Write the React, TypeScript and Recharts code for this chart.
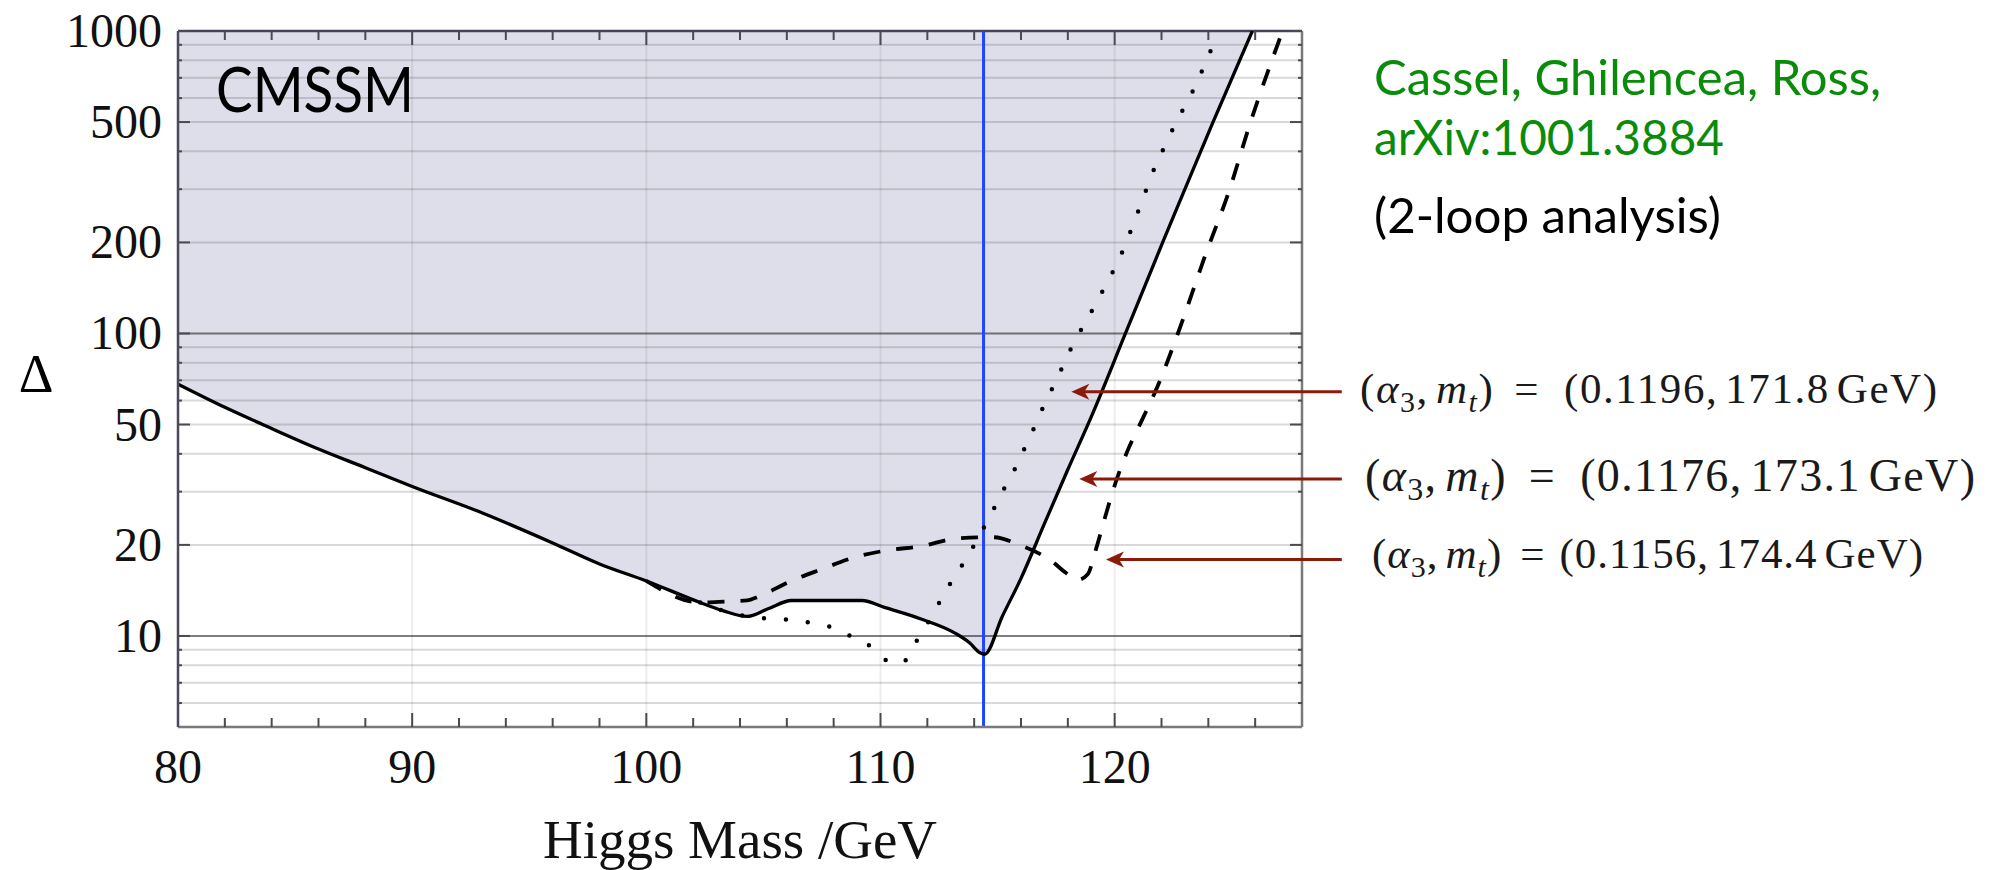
import { ComposedChart, Area, Line, XAxis, YAxis, ReferenceLine } from "recharts";

// Higgs mass (GeV) / fine tuning Δ for (α3, mt) = (0.1176, 173.1 GeV)
const solidMass = [80, 82, 84, 86, 88, 90, 93, 96, 98, 100, 102.3, 103.3, 104.3, 105.2, 106.2, 109.2, 110.2, 111.7, 113.2, 113.8, 114.25, 114.45, 115.2, 116, 117, 118, 119, 120.46, 122.05, 123.0, 124.2, 125.88];
const solidDelta = [68, 57, 48.5, 41.5, 36, 31.2, 25.5, 20.3, 17.3, 15.2, 12.9, 12.1, 11.6, 12.3, 13.1, 13.1, 12.4, 11.4, 10.2, 9.5, 8.8, 8.7, 11.6, 15.5, 23.5, 35.5, 53, 100, 200, 300, 500, 1000];

// (α3, mt) = (0.1156, 174.4 GeV)
const dashedMass = [100, 102.3, 103.4, 104.3, 104.8, 106.1, 107.47, 108.9, 110.3, 111.75, 113.25, 114.8, 116, 117.3, 117.9, 118.4, 118.85, 119.17, 119.59, 120.02, 120.53, 121.17, 121.82, 122.7, 123.9, 124.9, 125.74, 127.17];
const dashedDelta = [15.2, 12.9, 13.0, 13.1, 13.5, 15.1, 16.6, 18.2, 19.2, 19.8, 21.0, 21.2, 19.9, 17.7, 16.2, 15.3, 16.0, 19.0, 24.7, 31.8, 40.6, 51.8, 66.5, 100, 184, 298, 483, 1000];

// (α3, mt) = (0.1196, 171.8 GeV)
const dottedMass = [102.3, 103.3, 104.3, 105.25, 106.2, 107.13, 108.04, 108.85, 109.68, 110.33, 110.8, 111.18, 111.6, 112.1, 112.53, 113, 113.5, 113.97, 114.44, 114.87, 115.27, 115.7, 116.1, 116.5, 116.89, 117.29, 117.69, 118.08, 118.5, 118.98, 119.39, 119.83, 120.23, 120.6, 120.93, 121.26, 121.57, 121.96, 122.34, 122.75, 123.2, 123.6, 123.98, 124.31, 124.45];
const dottedDelta = [12.9, 12.1, 11.6, 11.4, 11.3, 11.0, 10.6, 9.87, 9.12, 8.24, 8.1, 8.5, 9.8, 11.3, 12.97, 15.0, 17.2, 19.8, 23.0, 26.6, 30.6, 35.2, 40.9, 47.6, 55.8, 64.7, 75.2, 87.5, 100.7, 117, 134, 155, 179, 210, 245, 286, 333, 389, 450, 521, 602, 701, 817, 946, 1000];

// LEP bound on the Higgs mass
const lepBound = 114.4;

// axes
const massDomain = [80, 128];
const deltaDomain = [5, 1000];
const massTicks = [80, 82, 84, 86, 88, 90, 92, 94, 96, 98, 100, 102, 104, 106, 108, 110, 112, 114, 116, 118, 120, 122, 124, 126, 128];
const massLabels = [80, 90, 100, 110, 120];
const massGrid = [90, 100, 110, 120];
const deltaTicks = [6, 7, 8, 9, 10, 20, 30, 40, 50, 60, 70, 80, 90, 100, 200, 300, 400, 500, 600, 700, 800, 900, 1000];
const deltaLabels = [10, 20, 50, 100, 200, 500, 1000];
const deltaMinorGrid = [6, 7, 8, 9, 20, 30, 40, 50, 60, 70, 80, 90, 200, 300, 400, 500, 600, 700, 800, 900];
const deltaMajorGrid = [10, 100];

// arrow tips next to each curve, top to bottom, and their captions
const arrowMass = [118.15, 118.49, 119.63];
const arrowDelta = [64.2, 33.0, 17.9];
const arrowTailMass = 129.7;
const captionAlpha = ["0.1196", "0.1176", "0.1156"];
const captionTop = ["171.8", "173.1", "174.4"];

const PLOT = { left: 178, right: 1302, top: 31, bottom: 727 };
const W = 2003;
const H = 870;

const SERIF = "'Liberation Serif', 'Times New Roman', serif";
const SANS = "Lato, 'Open Sans', sans-serif";
const SHADE = "#5a5a96";
const TICK = "#4a4a55";
const RED = "#8b1a0b";
const GREEN = "#0a8c0a";

const toRows = (mass: number[], delta: number[]) => mass.map((m, i) => ({ mass: m, delta: delta[i] }));
const solidRows = toRows(solidMass, solidDelta);
const dashedRows = toRows(dashedMass, dashedDelta);
const dottedRows = toRows(dottedMass, dottedDelta);
const shadeRows = solidMass.map((m, i) => ({ mass: m, band: [solidDelta[i], deltaDomain[1]] }));

function MassTick(props: any) {
  const { x, payload } = props;
  const v = payload.value as number;
  const onFrame = v === massDomain[0] || v === massDomain[1];
  const len = v % 10 === 0 ? 14 : 9;
  return (
    <g>
      {!onFrame && <line x1={x} x2={x} y1={PLOT.bottom} y2={PLOT.bottom - len} stroke={TICK} strokeWidth={2} />}
      {!onFrame && <line x1={x} x2={x} y1={PLOT.top} y2={PLOT.top + len} stroke={TICK} strokeWidth={2} />}
      {massLabels.includes(v) && (
        <text x={x} y={783} textAnchor="middle" fontFamily={SERIF} fontSize={48} fill="#111">
          {v}
        </text>
      )}
    </g>
  );
}

function DeltaTick(props: any) {
  const { y, payload } = props;
  const v = payload.value as number;
  const labelled = deltaLabels.includes(v);
  const len = labelled ? 12 : 4;
  return (
    <g>
      <line x1={PLOT.left} x2={PLOT.left + len} y1={y} y2={y} stroke={TICK} strokeWidth={2} />
      <line x1={PLOT.right} x2={PLOT.right - len} y1={y} y2={y} stroke={TICK} strokeWidth={2} />
      {labelled && (
        <text x={PLOT.left - 16} y={y + 16} textAnchor="end" fontFamily={SERIF} fontSize={48} fill="#111">
          {v}
        </text>
      )}
    </g>
  );
}

function Arrow(props: any) {
  const { x1, y1, x2 } = props;
  const tip = Math.min(x1, x2);
  const tail = Math.max(x1, x2);
  const y = y1;
  return (
    <g>
      <line x1={tip + 10} y1={y} x2={tail} y2={y} stroke={RED} strokeWidth={3} />
      <path d={`M${tip},${y} L${tip + 18},${y - 8} L${tip + 13},${y} L${tip + 18},${y + 8} Z`} fill={RED} />
    </g>
  );
}

// (α3, mt) = (…, … GeV), spaced like TeX math
function Caption(props: { x: number; y: number; width: number; size: number; gapL: number; gapR: number; alpha: string; top: string }) {
  const { x, y, width, size, gapL, gapR, alpha, top } = props;
  const sub = Math.round(size * 0.7);
  const drop = Math.round(size * 0.2);
  const thin = Math.round(size * 0.17);
  return (
    <text x={x} y={y} fontFamily={SERIF} fontSize={size} fill="#1a1a1a" textLength={width}>
      <tspan>(</tspan>
      <tspan fontStyle="italic">α</tspan>
      <tspan fontSize={sub} dy={drop}>3</tspan>
      <tspan dy={-drop}>,</tspan>
      <tspan dx={thin} fontStyle="italic">m</tspan>
      <tspan fontSize={sub} dy={drop} fontStyle="italic">t</tspan>
      <tspan dy={-drop}>)</tspan>
      <tspan dx={gapL}>=</tspan>
      <tspan dx={gapR}>{`(${alpha},`}</tspan>
      <tspan dx={thin}>{top}</tspan>
      <tspan dx={thin}>GeV)</tspan>
    </text>
  );
}

const captionX = [1360, 1365, 1372];
const captionY = [403, 491, 568];
const captionW = [577, 610, 551];
const captionSize = [43, 46, 43];
const captionGapL = [20, 22, 18];
const captionGapR = [24, 24, 14];

export default function App() {
  return (
    <div style={{ position: "absolute", left: 0, top: 0, width: W, height: H, background: "#fff" }}>
      <ComposedChart width={W} height={H} margin={{ top: PLOT.top, right: W - PLOT.right, bottom: 0, left: 0 }}>
        <XAxis
          dataKey="mass"
          type="number"
          domain={massDomain}
          ticks={massTicks}
          interval={0}
          allowDataOverflow
          height={H - PLOT.bottom}
          tickLine={false}
          tickSize={0}
          tickMargin={0}
          axisLine={{ stroke: "#7a7a7a", strokeWidth: 2.5 }}
          tick={(p: any) => <MassTick {...p} />}
        />
        <YAxis
          type="number"
          scale="log"
          domain={deltaDomain}
          ticks={deltaTicks}
          interval={0}
          allowDataOverflow
          width={PLOT.left}
          tickLine={false}
          tickSize={0}
          tickMargin={0}
          axisLine={{ stroke: "#4a4a5a", strokeWidth: 2.5 }}
          tick={(p: any) => <DeltaTick {...p} />}
        />
        <Area
          data={shadeRows}
          dataKey="band"
          type="monotoneX"
          fill={SHADE}
          fillOpacity={0.2}
          stroke="none"
          isAnimationActive={false}
        />
        {massGrid.map((m) => (
          <ReferenceLine key={`vg${m}`} x={m} stroke="#000" strokeOpacity={0.07} strokeWidth={2} />
        ))}
        {deltaMinorGrid.map((d) => (
          <ReferenceLine key={`mg${d}`} y={d} stroke="#000" strokeOpacity={0.15} strokeWidth={2} />
        ))}
        {deltaMajorGrid.map((d) => (
          <ReferenceLine key={`Mg${d}`} y={d} stroke="#000" strokeOpacity={0.5} strokeWidth={2} />
        ))}
        <ReferenceLine y={deltaDomain[1]} stroke="#44445a" strokeWidth={2.5} />
        <ReferenceLine x={massDomain[1]} stroke="#7a7a7a" strokeWidth={2.5} />
        <ReferenceLine x={lepBound} stroke="#1f45ff" strokeWidth={3} />
        <Line data={solidRows} dataKey="delta" type="monotoneX" stroke="#000" strokeWidth={3.3} dot={false} isAnimationActive={false} />
        <Line
          data={dashedRows}
          dataKey="delta"
          type="monotoneX"
          stroke="#000"
          strokeWidth={3.8}
          strokeDasharray="17 16"
          dot={false}
          isAnimationActive={false}
        />
        <Line
          data={dottedRows}
          dataKey="delta"
          type="monotoneX"
          stroke="#000"
          strokeWidth={4.5}
          strokeDasharray="0 22"
          strokeLinecap="round"
          dot={false}
          isAnimationActive={false}
        />
        {arrowMass.map((m, i) => (
          <ReferenceLine
            key={`ar${i}`}
            segment={[
              { x: m, y: arrowDelta[i] },
              { x: arrowTailMass, y: arrowDelta[i] },
            ]}
            ifOverflow="visible"
            shape={(p: any) => <Arrow {...p} />}
          />
        ))}
      </ComposedChart>

      <svg width={W} height={H} style={{ position: "absolute", left: 0, top: 0, pointerEvents: "none" }}>
        <text x={216} y={112} fontFamily={SANS} fontSize={62} fill="#000" textLength={198} lengthAdjust="spacingAndGlyphs">
          CMSSM
        </text>
        <text x={36} y={392} textAnchor="middle" fontFamily={SERIF} fontSize={54} fill="#000">
          Δ
        </text>
        <text x={(PLOT.left + PLOT.right) / 2} y={858} textAnchor="middle" fontFamily={SERIF} fontSize={55} fill="#111">
          Higgs Mass /GeV
        </text>
        <text x={1374} y={95} fontFamily={SANS} fontSize={48} fill={GREEN} textLength={507} lengthAdjust="spacingAndGlyphs">
          Cassel, Ghilencea, Ross,
        </text>
        <text x={1374} y={155} fontFamily={SANS} fontSize={48} fill={GREEN} textLength={350} lengthAdjust="spacingAndGlyphs">
          arXiv:1001.3884
        </text>
        <text x={1374} y={233} fontFamily={SANS} fontSize={48} fill="#000" textLength={347} lengthAdjust="spacingAndGlyphs">
          (2-loop analysis)
        </text>
        {captionAlpha.map((a, i) => (
          <Caption
            key={a}
            x={captionX[i]}
            y={captionY[i]}
            width={captionW[i]}
            size={captionSize[i]}
            gapL={captionGapL[i]}
            gapR={captionGapR[i]}
            alpha={a}
            top={captionTop[i]}
          />
        ))}
      </svg>
    </div>
  );
}
